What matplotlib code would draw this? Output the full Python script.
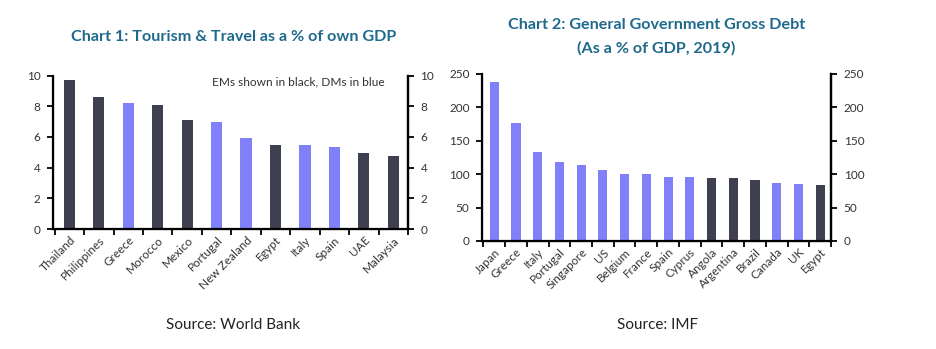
import numpy as np
import matplotlib.pyplot as plt

# Chart 1 data - tourism & travel as % of GDP
tour_countries = ['Thailand', 'Philippines', 'Greece', 'Morocco', 'Mexico', 'Portugal',
                  'New Zealand', 'Egypt', 'Italy', 'Spain', 'UAE', 'Malaysia']
tour_values = [9.7, 8.6, 8.2, 8.1, 7.1, 7.0, 5.9, 5.45, 5.45, 5.35, 4.95, 4.75]
tour_em = [1, 1, 0, 1, 1, 0, 0, 1, 0, 0, 1, 1]  # 1 = EM (black), 0 = DM (blue)

# Chart 2 data - general government gross debt
debt_countries = ['Japan', 'Greece', 'Italy', 'Portugal', 'Singapore', 'US', 'Belgium',
                  'France', 'Spain', 'Cyprus', 'Angola', 'Argentina', 'Brazil',
                  'Canada', 'UK', 'Egypt']
debt_values = [238.5, 177, 133.5, 117.5, 113.5, 106.5, 101, 100, 96.5, 95.5, 95, 94,
               91.5, 87.5, 86, 84.5]
debt_em = [0, 0, 0, 0, 0, 0, 0, 0, 0, 0, 1, 1, 1, 0, 0, 1]

BLUE = '#8080f8'
DARK = '#3f404f'
TITLE = '#1f6a8c'
TXT = '#333333'

plt.rcParams['font.family'] = ['Lato', 'DejaVu Sans']

fig = plt.figure(figsize=(9.36, 3.49), dpi=100)


def draw(ax, names, vals, em, ylim, yticks, width):
    x = np.arange(len(names))
    colors = [DARK if e else BLUE for e in em]
    ax.bar(x, vals, width=width, color=colors, zorder=2)
    ax.set_xlim(-0.56, len(names) - 0.5)
    ax.set_ylim(*ylim)
    ax.set_yticks(yticks)
    ax.set_xticks(x)
    ax.set_xticklabels(names, rotation=45, ha='right', rotation_mode='anchor',
                       fontsize=8.5, color=TXT)
    ax.set_xticks(np.arange(len(names) + 1) - 0.5, minor=True)
    ax.tick_params(axis='x', which='major', length=0, pad=4)
    ax.tick_params(axis='x', which='minor', length=4, width=1.3, direction='out')
    ax.tick_params(axis='y', length=4, width=1.3, direction='out', labelsize=8.5,
                   labelcolor=TXT, pad=5)
    ax.spines['top'].set_visible(False)
    for s in ['left', 'bottom', 'right']:
        ax.spines[s].set_linewidth(1.6)
    ax2 = ax.twinx()
    ax2.set_ylim(*ylim)
    ax2.set_yticks(yticks)
    ax2.tick_params(axis='y', length=4, width=1.3, direction='out', labelsize=8.5,
                    labelcolor=TXT, pad=5)
    ax2.spines['top'].set_visible(False)
    ax2.spines['right'].set_linewidth(1.6)
    return ax


ax1 = fig.add_axes([0.0566, 0.3438, 0.3793, 0.4398])
draw(ax1, tour_countries, tour_values, tour_em, (0, 10), range(0, 11, 2), 0.38)
ax1.text(0.935, 0.96, 'EMs shown in black, DMs in blue', transform=ax1.transAxes,
         ha='right', va='center', fontsize=8.6, color=TXT)

ax2 = fig.add_axes([0.515, 0.3095, 0.3729, 0.4785])
draw(ax2, debt_countries, debt_values, debt_em, (0, 250), range(0, 251, 50), 0.42)

fig.text(0.25, 1 - 37 / 349, 'Chart 1: Tourism & Travel as a % of own GDP',
         ha='center', va='center', fontsize=11.6, fontweight='bold', color=TITLE)
fig.text(0.701, 1 - 25 / 349, 'Chart 2: General Government Gross Debt',
         ha='center', va='center', fontsize=11.6, fontweight='bold', color=TITLE)
fig.text(0.701, 1 - 48 / 349, '(As a % of GDP, 2019)',
         ha='center', va='center', fontsize=11.6, fontweight='bold', color=TITLE)

fig.text(233 / 936, 1 - 325 / 349, 'Source: World Bank', ha='center', va='center',
         fontsize=11, color='#222222')
fig.text(658 / 936, 1 - 325 / 349, 'Source: IMF', ha='center', va='center',
         fontsize=11, color='#222222')

fig.savefig('out.png', dpi=100)
